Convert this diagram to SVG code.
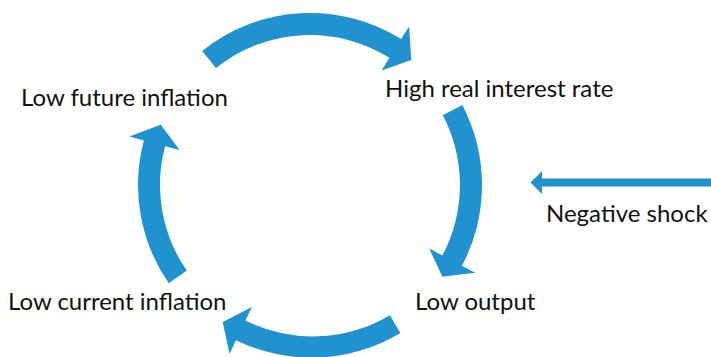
<svg xmlns="http://www.w3.org/2000/svg" width="711" height="357" viewBox="0 0 711 357">
<style>
.arr{fill:#2092d0;stroke:none}
.lbl{font-family:Lato,"Noto Sans",sans-serif;font-size:24px;fill:#111}
</style>
<rect width="711" height="357" fill="#fff"/>
<g id="connectors">
<path class="arr" d="M202.2,50.9 A172,172 0 0 1 401.1,39.1 L409.1,26.4 L411.3,59.9 L381.5,70.5 L389.5,57.8 A150,150 0 0 0 216.0,68.1 Z"/>
<path class="arr" d="M462.3,105.1 A172,172 0 0 1 461.9,265.8 L475.1,272.8 L442.4,276.7 L429.2,248.4 L442.4,255.4 A150,150 0 0 0 442.8,115.3 Z"/>
<path class="arr" d="M400.4,333.0 A172,172 0 0 1 236.0,340.2 L229.5,353.8 L222.7,321.9 L251.9,306.9 L245.4,320.4 A150,150 0 0 0 389.9,315.2 Z"/>
<path class="arr" d="M168.8,283.2 A172,172 0 0 1 143.9,140.5 L129.4,136.6 L160.7,124.7 L179.6,150.1 L165.1,146.2 A150,150 0 0 0 186.8,270.6 Z"/>
<path class="arr" d="M711,178.5 L542,178.5 L542,171 L530.5,182.5 L542,194 L542,186.5 L711,186.5 Z"/>
</g>
<g id="n-high-real"><text class="lbl" x="385" y="97">High real interest rate</text></g>
<g id="n-low-output"><text class="lbl" x="415" y="310">Low output</text></g>
<g id="n-low-current"><text class="lbl" x="8" y="310">Low current inflation</text></g>
<g id="n-low-future"><text class="lbl" x="21" y="106">Low future inflation</text></g>
<g id="n-negative-shock"><text class="lbl" x="546" y="222">Negative shock</text></g>
</svg>
